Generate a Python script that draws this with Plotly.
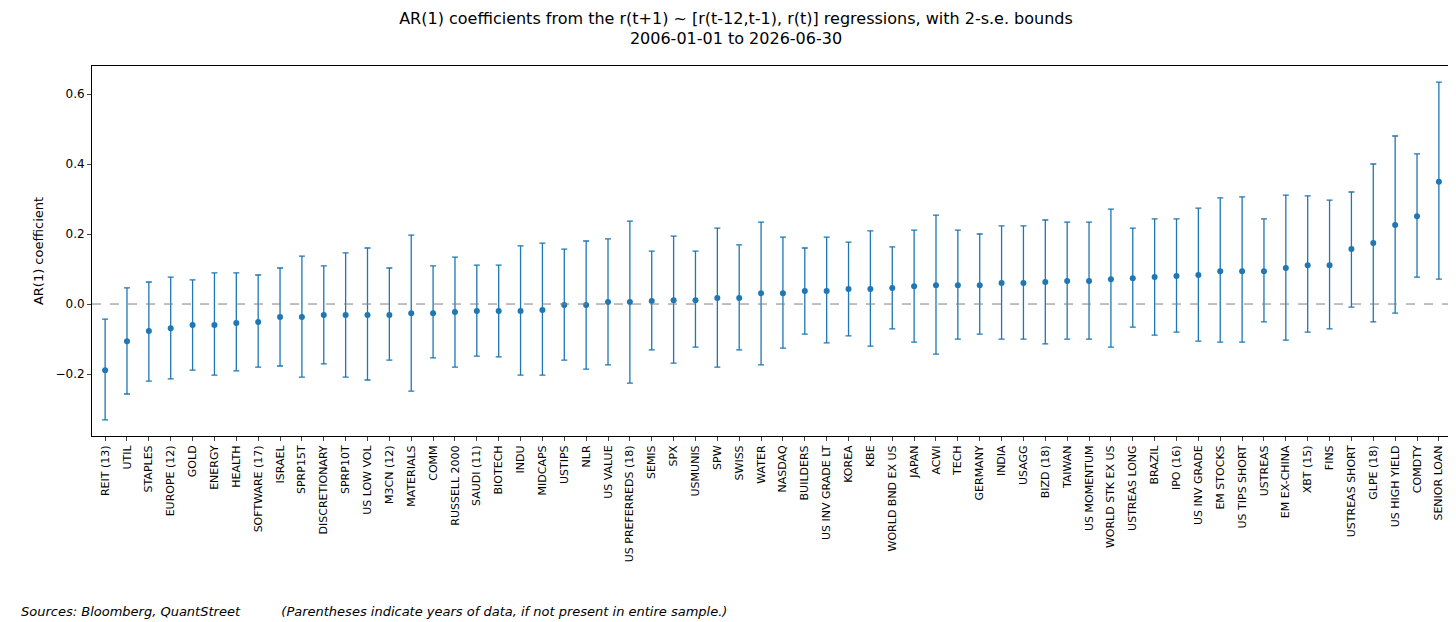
import plotly.graph_objects as go

labels = ["REIT (13)","UTIL","STAPLES","EUROPE (12)","GOLD","ENERGY","HEALTH","SOFTWARE (17)","ISRAEL","SPRP15T",
"DISCRETIONARY","SPRP10T","US LOW VOL","M3CN (12)","MATERIALS","COMM","RUSSELL 2000","SAUDI (11)","BIOTECH","INDU",
"MIDCAPS","USTIPS","NLR","US VALUE","US PREFERREDS (18)","SEMIS","SPX","USMUNIS","SPW","SWISS",
"WATER","NASDAQ","BUILDERS","US INV GRADE LT","KOREA","KBE","WORLD BND EX US","JAPAN","ACWI","TECH",
"GERMANY","INDIA","USAGG","BIZD (18)","TAIWAN","US MOMENTUM","WORLD STK EX US","USTREAS LONG","BRAZIL","IPO (16)",
"US INV GRADE","EM STOCKS","US TIPS SHORT","USTREAS","EM EX-CHINA","XBT (15)","FINS","USTREAS SHORT","GLPE (18)","US HIGH YIELD",
"COMDTY","SENIOR LOAN"]
coef = [-0.189,-0.106,-0.077,-0.069,-0.060,-0.060,-0.054,-0.051,-0.037,-0.037,
-0.031,-0.031,-0.031,-0.031,-0.026,-0.026,-0.023,-0.020,-0.020,-0.020,
-0.017,-0.003,-0.003,0.006,0.006,0.009,0.011,0.011,0.017,0.017,
0.031,0.031,0.037,0.037,0.043,0.043,0.046,0.051,0.054,0.054,
0.054,0.060,0.060,0.063,0.066,0.066,0.071,0.074,0.077,0.080,
0.083,0.094,0.094,0.094,0.103,0.111,0.111,0.157,0.174,0.226,
0.251,0.349]
upper = [-0.043,0.046,0.063,0.077,0.069,0.089,0.089,0.083,0.103,0.137,
0.109,0.146,0.160,0.103,0.197,0.109,0.134,0.111,0.111,0.166,
0.174,0.157,0.180,0.186,0.237,0.151,0.194,0.151,0.217,0.169,
0.234,0.191,0.160,0.191,0.177,0.209,0.163,0.211,0.254,0.211,
0.200,0.223,0.223,0.240,0.234,0.234,0.271,0.217,0.243,0.243,
0.274,0.303,0.306,0.243,0.311,0.309,0.297,0.320,0.400,0.480,
0.429,0.634]
lower = [-0.331,-0.257,-0.220,-0.214,-0.189,-0.203,-0.191,-0.180,-0.177,-0.209,
-0.171,-0.209,-0.217,-0.160,-0.249,-0.154,-0.180,-0.149,-0.151,-0.203,
-0.203,-0.160,-0.186,-0.174,-0.226,-0.131,-0.169,-0.123,-0.180,-0.131,
-0.174,-0.126,-0.086,-0.111,-0.091,-0.120,-0.071,-0.109,-0.143,-0.100,
-0.086,-0.100,-0.100,-0.114,-0.100,-0.100,-0.123,-0.066,-0.089,-0.080,
-0.106,-0.109,-0.109,-0.051,-0.103,-0.080,-0.071,-0.009,-0.051,-0.026,
0.077,0.071]

col = "#1f77b4"
fig = go.Figure(go.Scatter(
    x=labels, y=coef, mode="markers",
    marker=dict(color=col, size=6),
    error_y=dict(type="data", symmetric=False,
                 array=[u - c for u, c in zip(upper, coef)],
                 arrayminus=[c - l for c, l in zip(coef, lower)],
                 color=col, thickness=1.3, width=3),
))
fig.add_hline(y=0, line=dict(color="gray", width=1, dash="dash"))
axis = dict(showline=True, linecolor="black", linewidth=1, mirror=True, ticks="outside",
            ticklen=4, showgrid=False, zeroline=False, automargin=False,
            tickfont=dict(size=12, color="black"))
fig.update_layout(
    width=1456, height=622, plot_bgcolor="white", paper_bgcolor="white",
    font=dict(family="DejaVu Sans", color="black"),
    margin=dict(l=84, r=12, t=58, b=194, autoexpand=False),
    showlegend=False,
    title=dict(text="AR(1) coefficients from the r(t+1) ~ [r(t-12,t-1), r(t)] regressions, with 2-s.e. bounds<br>2006-01-01 to 2026-06-30",
               x=0.5, xanchor="center", y=0.975, yanchor="top", font=dict(size=16)),
    xaxis=dict(axis, tickangle=-90, tickfont=dict(size=11, color="black"), range=[-0.6, len(labels)-0.4]),
    yaxis=dict(axis, title=dict(text="AR(1) coefficient", font=dict(size=13), standoff=8),
               range=[-0.377, 0.68], tickvals=[-0.2, 0, 0.2, 0.4, 0.6],
               ticktext=["−0.2", "0.0", "0.2", "0.4", "0.6"]),
    annotations=[dict(text="<i>Sources: Bloomberg, QuantStreet          (Parentheses indicate years of data, if not present in entire sample.)</i>",
                      xref="paper", yref="paper", x=-0.054, y=-0.473, xanchor="left", yanchor="middle",
                      showarrow=False, font=dict(size=13))],
)
fig.write_html("out.html")
